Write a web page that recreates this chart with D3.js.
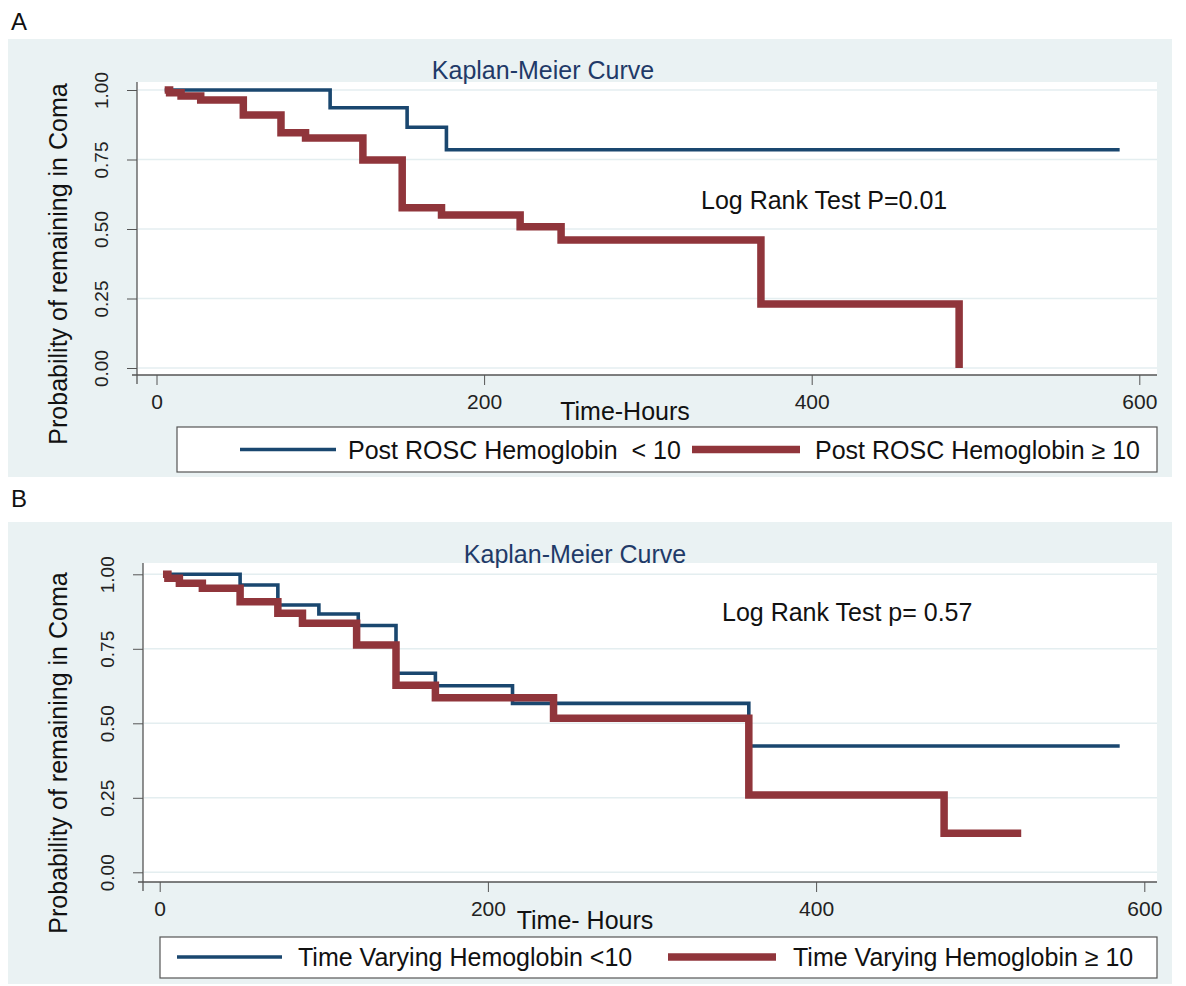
<!DOCTYPE html>
<html><head><meta charset="utf-8">
<script src="https://cdn.jsdelivr.net/npm/d3@7"></script>
<style>
body{margin:0;background:#fff}
text{font-family:"Liberation Sans",Arial,Helvetica,sans-serif}
</style>
</head><body>
<svg id="c" width="1186" height="986"></svg>
<script>
// ---------- data ----------
const xTicks = [0, 200, 400, 600];
const yTicks = [0, 0.25, 0.5, 0.75, 1];
const yTickLabels = ["0.00", "0.25", "0.50", "0.75", "1.00"];

// Panel A
const aTitle = "Kaplan-Meier Curve";
const aXTitle = "Time-Hours";
const aYTitle = "Probability of remaining in Coma";
const aNote = "Log Rank Test P=0.01";
const aLegend = ["Post ROSC Hemoglobin  < 10", "Post ROSC Hemoglobin \u2265 10"];
const aBlueTime = [5, 106, 153, 177, 588];
const aBlueSurv = [1.00, 0.936, 0.866, 0.785, 0.785];
const aRedTime = [5, 8, 15, 27, 53, 76, 91, 126, 150, 174, 222, 247, 369, 490];
const aRedSurv = [1.00, 0.990, 0.978, 0.964, 0.910, 0.846, 0.827, 0.748, 0.576, 0.550, 0.508, 0.460, 0.230, 0.000];

// Panel B
const bTitle = "Kaplan-Meier Curve";
const bXTitle = "Time- Hours";
const bYTitle = "Probability of remaining in Coma";
const bNote = "Log Rank Test p= 0.57";
const bLegend = ["Time Varying Hemoglobin <10", "Time Varying Hemoglobin \u2265 10"];
const bBlueTime = [6, 49, 72, 97, 121, 144, 168, 215, 359, 585];
const bBlueSurv = [1.00, 0.964, 0.897, 0.867, 0.828, 0.668, 0.626, 0.567, 0.424, 0.424];
const bRedTime = [2, 5, 12, 26, 49, 72, 87, 120, 144, 168, 240, 359, 478, 525];
const bRedSurv = [1.00, 0.987, 0.970, 0.953, 0.908, 0.869, 0.836, 0.763, 0.628, 0.586, 0.517, 0.259, 0.131, 0.131];

// ---------- drawing ----------
const BLUE = "#1a476f", RED = "#90353b", BG = "#eaf2f3";
const FONT = '"Liberation Sans",Arial,Helvetica,sans-serif';
const svg = d3.select("#c");

function drawPanel(p) {
  const g = svg.append("g");
  g.append("rect").attr("x", p.bg[0]).attr("y", p.bg[1]).attr("width", p.bg[2]).attr("height", p.bg[3]).attr("fill", BG);
  g.append("text").text(p.letter).attr("x", p.letterPos[0]).attr("y", p.letterPos[1])
    .attr("font-size", 24).attr("fill", "#111");
  g.append("rect").attr("x", p.plot.l).attr("y", p.plot.t)
    .attr("width", p.plot.r - p.plot.l).attr("height", p.plot.b - p.plot.t).attr("fill", "#fff");

  const x = d3.scaleLinear().domain([0, 600]).range(p.xr);
  const y = d3.scaleLinear().domain([0, 1]).range(p.yr);

  // gridlines
  g.selectAll(".grid").data(yTicks).join("line")
    .attr("x1", p.plot.l + 1).attr("x2", p.plot.r)
    .attr("y1", d => y(d)).attr("y2", d => y(d))
    .attr("stroke", "#e4eef0").attr("stroke-width", 1.6);

  // title
  g.append("text").text(p.title).attr("x", p.titlePos[0]).attr("y", p.titlePos[1])
    .attr("text-anchor", "middle").attr("font-size", 25).attr("fill", "#1f3a68");

  // y axis
  const ya = d3.axisLeft(y).tickValues(yTicks).tickFormat((d, i) => yTickLabels[i]).tickSize(10).tickSizeOuter(0);
  const yg = g.append("g").attr("transform", `translate(${p.plot.l},0)`).call(ya);
  yg.select(".domain").remove();
  yg.selectAll("line").attr("stroke", "#555");
  yg.selectAll("text").attr("transform", "rotate(-90)").attr("x", 0).attr("y", -29).attr("dy", 0)
    .attr("text-anchor", "middle").attr("font-size", 19).attr("fill", "#222")
    .style("font-family", FONT);
  g.append("line").attr("x1", p.plot.l).attr("x2", p.plot.l).attr("y1", p.plot.t).attr("y2", p.plot.b + 9)
    .attr("stroke", "#555").attr("stroke-width", 1.3);

  // x axis
  const xa = d3.axisBottom(x).tickValues(xTicks).tickSize(10).tickSizeOuter(0);
  const xg = g.append("g").attr("transform", `translate(0,${p.plot.b})`).call(xa);
  xg.select(".domain").remove();
  xg.selectAll("line").attr("stroke", "#555");
  xg.selectAll("text").attr("y", 34).attr("dy", 0).attr("font-size", 21).attr("fill", "#222")
    .style("font-family", FONT);
  g.append("line").attr("x1", p.plot.l - 5).attr("x2", p.plot.r).attr("y1", p.plot.b).attr("y2", p.plot.b)
    .attr("stroke", "#555").attr("stroke-width", 1.3);

  // axis titles
  g.append("text").text(p.xTitle).attr("x", p.xTitlePos[0]).attr("y", p.xTitlePos[1])
    .attr("text-anchor", "middle").attr("font-size", 25).attr("fill", "#111");
  g.append("text").text(p.yTitle)
    .attr("transform", `translate(${p.yTitlePos[0]},${p.yTitlePos[1]}) rotate(-90)`)
    .attr("text-anchor", "middle").attr("font-size", 25).attr("fill", "#111");

  // curves
  const line = d3.line().x(d => x(d.t)).y(d => y(d.s)).curve(d3.curveStepAfter);
  const blue = p.blueT.map((t, i) => ({t, s: p.blueS[i]}));
  const red = p.redT.map((t, i) => ({t, s: p.redS[i]}));
  g.append("path").attr("d", line(blue)).attr("fill", "none").attr("stroke", BLUE)
    .attr("stroke-width", 3.6).attr("stroke-linejoin", "miter").attr("stroke-linecap", "butt");
  g.append("path").attr("d", line(red)).attr("fill", "none").attr("stroke", RED)
    .attr("stroke-width", 7.5).attr("stroke-linejoin", "miter").attr("stroke-linecap", "butt");

  // note
  g.append("text").text(p.note).attr("x", p.notePos[0]).attr("y", p.notePos[1])
    .attr("font-size", 25).attr("fill", "#111");

  // legend
  const L = p.legend;
  g.append("rect").attr("x", L.box[0]).attr("y", L.box[1]).attr("width", L.box[2]).attr("height", L.box[3])
    .attr("fill", "#fff").attr("stroke", "#555").attr("stroke-width", 1.2);
  g.append("line").attr("x1", L.blue[0]).attr("x2", L.blue[1]).attr("y1", L.ly).attr("y2", L.ly)
    .attr("stroke", BLUE).attr("stroke-width", 3.6);
  g.append("line").attr("x1", L.red[0]).attr("x2", L.red[1]).attr("y1", L.ly).attr("y2", L.ly)
    .attr("stroke", RED).attr("stroke-width", 7.5);
  g.append("text").text(p.legendText[0]).attr("x", L.t1).attr("y", L.ty)
    .attr("font-size", 25).attr("fill", "#111").style("white-space", "pre");
  g.append("text").text(p.legendText[1]).attr("x", L.t2).attr("y", L.ty)
    .attr("font-size", 25).attr("fill", "#111").style("white-space", "pre");
}

drawPanel({
  letter: "A", letterPos: [11, 30],
  bg: [8, 39, 1164, 438],
  plot: {l: 137, t: 82, r: 1157, b: 375},
  xr: [156.5, 1139.3], yr: [368, 90],
  title: aTitle, titlePos: [543, 79],
  xTitle: aXTitle, xTitlePos: [625, 420],
  yTitle: aYTitle, yTitlePos: [67, 264],
  note: aNote, notePos: [701, 209],
  blueT: aBlueTime, blueS: aBlueSurv, redT: aRedTime, redS: aRedSurv,
  legendText: aLegend,
  legend: {box: [177, 427, 980, 45], ly: 449.5, blue: [240, 336], red: [692, 800], t1: 348, t2: 815, ty: 459}
});

drawPanel({
  letter: "B", letterPos: [11, 507],
  bg: [8, 522, 1164, 462],
  plot: {l: 143, t: 563, r: 1157, b: 882},
  xr: [159.7, 1144.3], yr: [872.3, 574.3],
  title: bTitle, titlePos: [575, 563],
  xTitle: bXTitle, xTitlePos: [585, 929],
  yTitle: bYTitle, yTitlePos: [67, 753],
  note: bNote, notePos: [722, 621],
  blueT: bBlueTime, blueS: bBlueSurv, redT: bRedTime, redS: bRedSurv,
  legendText: bLegend,
  legend: {box: [160, 937, 997, 41], ly: 957, blue: [177, 282], red: [668, 776], t1: 298, t2: 793, ty: 966}
});
</script>
</body></html>
